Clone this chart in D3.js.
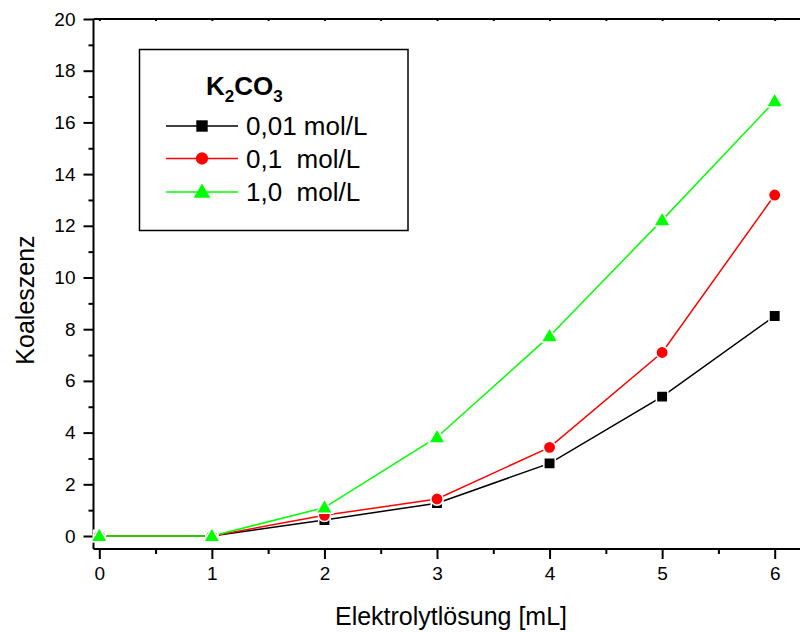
<!DOCTYPE html>
<html><head><meta charset="utf-8">
<script src="https://cdn.jsdelivr.net/npm/d3@7"></script>
<style>body{margin:0;background:#fff}svg{display:block;font-family:Arial,"Liberation Sans",sans-serif}</style>
</head><body><svg id="c" width="800" height="632"></svg>
<script>
const xValues = [0, 1, 2, 3, 4, 5, 6];
const series001 = [0, 0, 0.62, 1.27, 2.81, 5.39, 8.51];
const series01  = [0, 0, 0.8, 1.43, 3.43, 7.1, 13.19];
const series10  = [0, 0, 1.1, 3.82, 7.73, 12.22, 16.82];
const seriesNames = ["0,01 mol/L", "0,1  mol/L", "1,0  mol/L"];
const seriesColors = ["#000000", "#ff0000", "#00ff00"];
const seriesSymbols = ["square", "circle", "triangle"];
const xTicks = [0, 1, 2, 3, 4, 5, 6];
const yTicks = [0, 2, 4, 6, 8, 10, 12, 14, 16, 18, 20];

const svg = d3.select("#c");
const x = d3.scaleLinear().domain([0, 6]).range([99.3, 774.7]);
const y = d3.scaleLinear().domain([0, 20]).range([536, 19]);
const plotLeft = 93.5, plotTop = 19, plotBottom = 549;

// frame (right edge clipped off image)
svg.append("line").attr("x1", plotLeft).attr("x2", 802).attr("y1", plotTop).attr("y2", plotTop).attr("stroke", "#000").attr("stroke-width", 2);

// axes
const xAxis = d3.axisBottom(x).tickValues(xTicks).tickSize(10).tickPadding(8).tickFormat(d3.format("d"));
const gx = svg.append("g").attr("transform", `translate(0,${plotBottom})`).call(xAxis);
const xMinor = d3.axisBottom(x).tickValues(d3.range(0.5, 6.5, 1)).tickSize(5).tickFormat("");
svg.append("g").attr("transform", `translate(0,${plotBottom})`).call(xMinor).select(".domain").remove();
gx.select(".domain").attr("d", `M${plotLeft},0H802`);

const yAxis = d3.axisLeft(y).tickValues(yTicks).tickSize(10).tickPadding(8);
const gy = svg.append("g").attr("transform", `translate(${plotLeft},0)`).call(yAxis);
gy.select(".domain").attr("d", `M0,${plotTop}V${plotBottom}`);
const yMinor = d3.axisLeft(y).tickValues(d3.range(1, 20, 2)).tickSize(5).tickFormat("");
svg.append("g").attr("transform", `translate(${plotLeft},0)`).call(yMinor).select(".domain").remove();

// top tiny inner ticks
const xTop = d3.axisBottom(x).tickValues(d3.range(0, 6.5, 0.5)).tickSize(2).tickFormat("");
svg.append("g").attr("transform", `translate(0,${plotTop})`).call(xTop).select(".domain").remove();

svg.selectAll(".domain").attr("stroke-width", 2);
svg.selectAll(".tick line").attr("stroke-width", 2);
svg.selectAll(".tick text").attr("font-size", 19).attr("font-family", "Arial, 'Liberation Sans', sans-serif").attr("fill", "#000");

// axis titles
svg.append("text").attr("x", 451).attr("y", 625).attr("text-anchor", "middle").attr("font-size", 25).text("Elektrolytlösung [mL]");
svg.append("text").attr("transform", "translate(34,300) rotate(-90)").attr("text-anchor", "middle").attr("font-size", 25).text("Koaleszenz");

// series
const allSeries = [series001, series01, series10];
const symMap = {square: d3.symbolSquare, circle: d3.symbolCircle, triangle: d3.symbolTriangle};
const symSize = {square: 130, circle: 120, triangle: 120};
const line = d3.line().x((d, i) => x(xValues[i])).y(d => y(d));

allSeries.forEach((s, k) => {
  svg.append("path").attr("d", line(s)).attr("fill", "none").attr("stroke", seriesColors[k]).attr("stroke-width", 1.5);
});
allSeries.forEach((s, k) => {
  const sym = d3.symbol().type(symMap[seriesSymbols[k]]).size(symSize[seriesSymbols[k]]);
  svg.append("g").selectAll("path").data(s).join("path")
    .attr("d", sym)
    .attr("transform", (d, i) => `translate(${x(xValues[i])},${y(d) + (seriesSymbols[k] === "triangle" ? 1 : 0)})`)
    .attr("fill", seriesColors[k]).attr("stroke", "#fff").attr("stroke-width", 1.5);
});

// legend
const lg = svg.append("g");
lg.append("rect").attr("x", 139.5).attr("y", 49.5).attr("width", 268.5).attr("height", 181).attr("fill", "#fff").attr("stroke", "#000").attr("stroke-width", 1.5);
const title = lg.append("text").attr("x", 206).attr("y", 95).attr("font-size", 26).attr("font-weight", "bold");
title.append("tspan").text("K");
title.append("tspan").attr("font-size", 17).attr("dy", 7).text("2");
title.append("tspan").attr("dy", -7).text("CO");
title.append("tspan").attr("font-size", 17).attr("dy", 7).text("3");
const legY = [126, 158.5, 192];
seriesNames.forEach((n, k) => {
  lg.append("line").attr("x1", 166).attr("x2", 238).attr("y1", legY[k]).attr("y2", legY[k]).attr("stroke", seriesColors[k]).attr("stroke-width", 1.5);
  const sym = d3.symbol().type(symMap[seriesSymbols[k]]).size(symSize[seriesSymbols[k]]);
  lg.append("path").attr("d", sym).attr("transform", `translate(202,${legY[k] + (seriesSymbols[k] === "triangle" ? 1 : 0)})`).attr("fill", seriesColors[k]);
  lg.append("text").attr("x", 246).attr("y", legY[k] + 9).attr("font-size", 26).style("white-space", "pre").text(n);
});
</script></body></html>
